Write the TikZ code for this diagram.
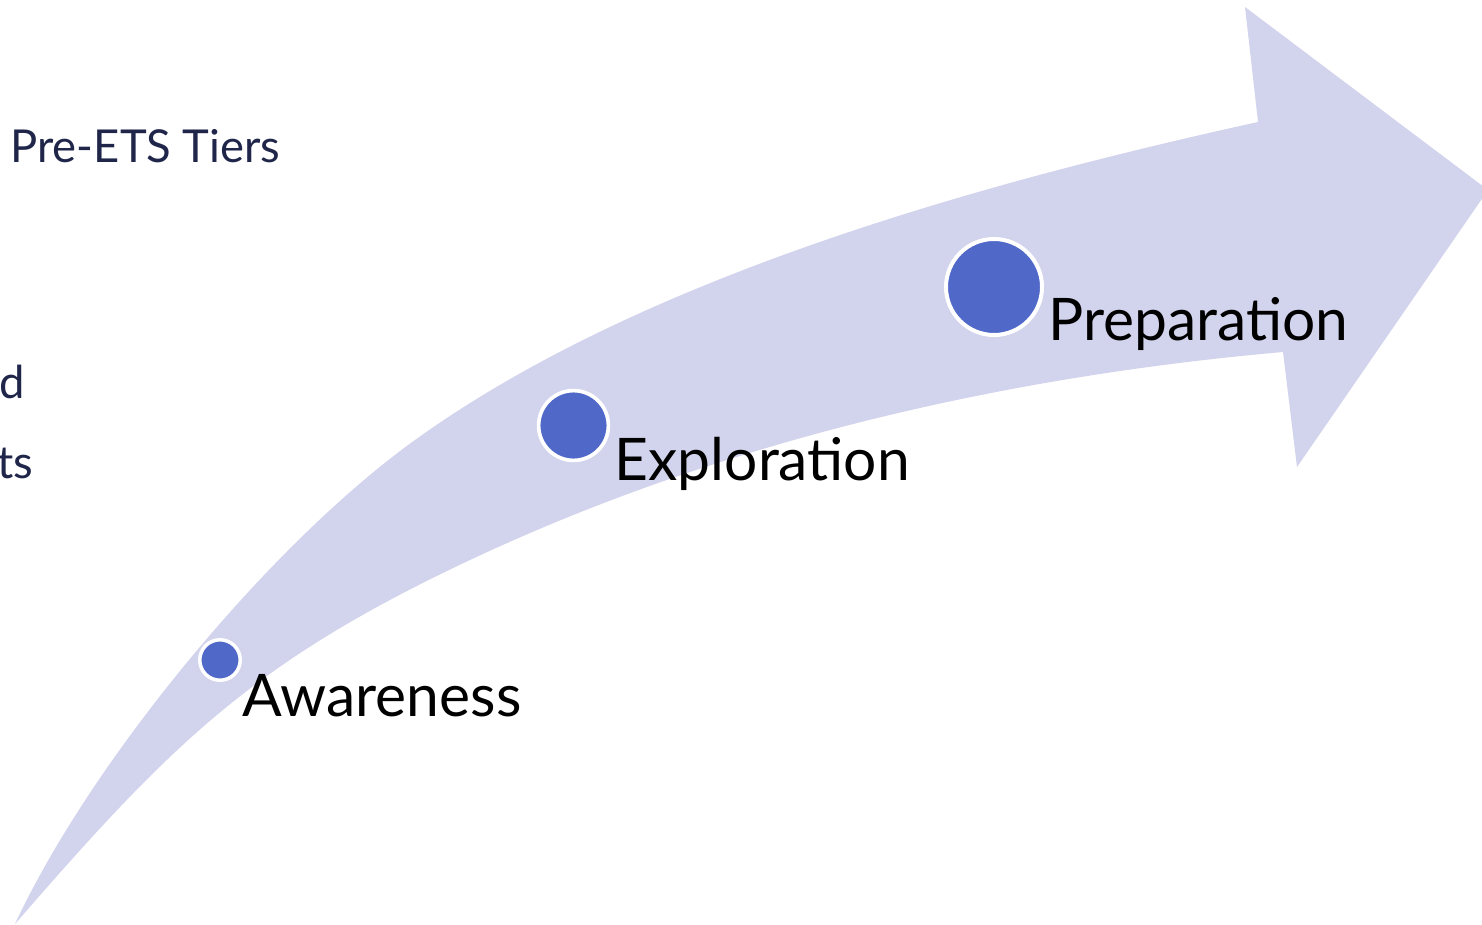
\documentclass[tikz,border=0pt]{standalone}
\usepackage{fontspec}
\setmainfont{Lato}
\definecolor{arrowfill}{HTML}{D2D3EC}
\definecolor{dotblue}{HTML}{5068C8}
\definecolor{navy}{HTML}{1F2649}
\begin{document}
\begin{tikzpicture}[x=0.01cm,y=-0.01cm,
  dot/.style={circle,fill=dotblue,draw=white,inner sep=0pt,outer sep=0pt},
  stage/.style={anchor=base west,inner sep=0pt,text=black,font=\fontsize{16.7}{20}\selectfont},
  side/.style={anchor=base east,inner sep=0pt,text=navy,font=\fontsize{12.9}{15}\selectfont}]
\useasboundingbox (0,0) rectangle (1482,924);
\begin{scope}
\clip (0,0) rectangle (1482,924);
\fill[arrowfill] (15,924) .. controls (91,761) and (269,545) .. (415,440)
  .. controls (642,276.5) and (985,182) .. (1258,122)
  -- (1245,7) -- (1488,190) -- (1297,467) -- (1283,352)
  .. controls (1004,376.6) and (723,441) .. (470,560)
  .. controls (253,662) and (172,743) .. (15,924) -- cycle;
\node[side] (tiers) at (281,162) {e Pre-ETS Tiers};
\node[side] (ed) at (26,398) {ed};
\node[side] (nts) at (34,478) {nts};
\end{scope}
\node[dot,line width=3.5*0.01cm,minimum size=40.5*0.01cm] (d1) at (220,660) {};
\node[dot,line width=3.7*0.01cm,minimum size=69.8*0.01cm] (d2) at (573.5,425.5) {};
\node[dot,line width=4*0.01cm,minimum size=96*0.01cm] (d3) at (994,287) {};
\node[stage] (aw) at (242,716) {Awareness};
\node[stage] (ex) at (614,480) {Exploration};
\node[stage] (pr) at (1048,340) {Preparation};
\end{tikzpicture}
\end{document}
